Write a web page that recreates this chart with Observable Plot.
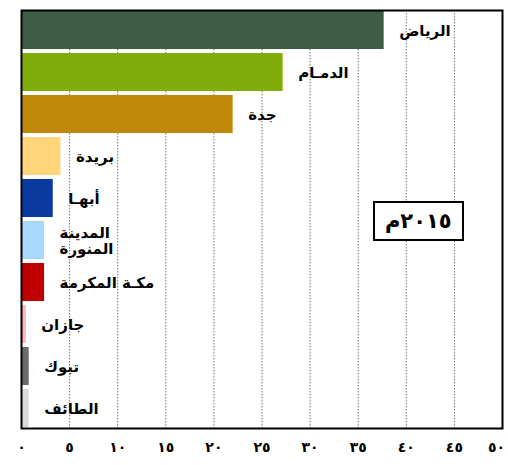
<!DOCTYPE html>
<html><head><meta charset="utf-8">
<script src="https://cdn.jsdelivr.net/npm/d3@7"></script>
<script src="https://cdn.jsdelivr.net/npm/@observablehq/plot@0.6"></script>
<style>
body{margin:0;background:#fff;}
#wrap{position:relative;width:508px;height:465px;overflow:hidden;}
#yearbox{position:absolute;border:2px solid #000;background:#fff;font:bold 21px "DejaVu Sans",sans-serif;letter-spacing:3px;text-align:center;box-sizing:border-box;}
</style>
</head><body>
<div id="wrap"></div>
<script>
const cities = ["الرياض","الدمـام","جدة","بريدة","أبهـا","المدينة\nالمنورة","مكـة المكرمة","جازان","تبوك","الطائف"];
const values = [37.7, 27.2, 22.0, 4.1, 3.3, 2.4, 2.4, 0.5, 0.8, 0.8];
const colors = ["#3d5c45","#80ad0a","#c08808","#ffd47a","#0a3aa0","#a8d8ff","#c00000","#ffb0b8","#6b6b6b","#d8d8d8"];
const xTicks = [0,5,10,15,20,25,30,35,40,45,50];
const gridTicks = [5,10,15,20,25,30,35,40,45];
const yearLabel = "٢٠١٥م";
const yearX = [36.6, 46.0];

const data = cities.map((c,i)=>({city:c, value:values[i], color:colors[i]}));
const ar = "٠١٢٣٤٥٦٧٨٩";
const toAr = d => String(d).replace(/\d/g, c => ar[c]);

const plot = Plot.plot({
  width: 508, height: 465,
  marginLeft: 21, marginRight: 6, marginTop: 10, marginBottom: 37,
  style: {fontFamily: '"DejaVu Sans", sans-serif', background: "#fff", overflow: "visible"},
  x: {domain: [0,50], ticks: xTicks, tickFormat: toAr, tickSize: 0, tickPadding: 14, label: null},
  y: {domain: cities, axis: null, paddingInner: 0.1, paddingOuter: 0},
  color: {type: "identity"},
  marks: [
    Plot.ruleX(gridTicks, {stroke: "#777", strokeDasharray: "1.5,1.5", strokeWidth: 1}),
    Plot.barX(data, {x: "value", y: "city", fill: "color"}),
    Plot.text(data, {x: "value", y: "city", text: "city", dx: 15, textAnchor: "start", fontWeight: "bold", fontSize: 15, fill: "#000", lineHeight: 1.1}),
    Plot.frame({stroke: "#000", strokeWidth: 2})
  ]
});
plot.querySelectorAll('g[aria-label="x-axis tick label"]').forEach(g=>{
  g.setAttribute("font-weight","bold"); g.setAttribute("font-size","14");
  const texts = g.querySelectorAll("text");
  const last = texts[texts.length-1];
  if (last) last.setAttribute("dx", "-6");
});
document.getElementById("wrap").appendChild(plot);

const xs = plot.scale("x"), ys = plot.scale("y");
const box = document.createElement("div");
box.id = "yearbox";
box.textContent = yearLabel;
box.dir = "rtl";
const x1 = xs.apply(yearX[0]), x2 = xs.apply(yearX[1]);
const yTop = ys.apply(cities[4]) + ys.bandwidth*0.58;
box.style.left = x1 + "px";
box.style.width = (x2 - x1) + "px";
box.style.top = yTop + "px";
box.style.height = "40px";
box.style.lineHeight = "36px";
document.getElementById("wrap").appendChild(box);
</script>
</body></html>
